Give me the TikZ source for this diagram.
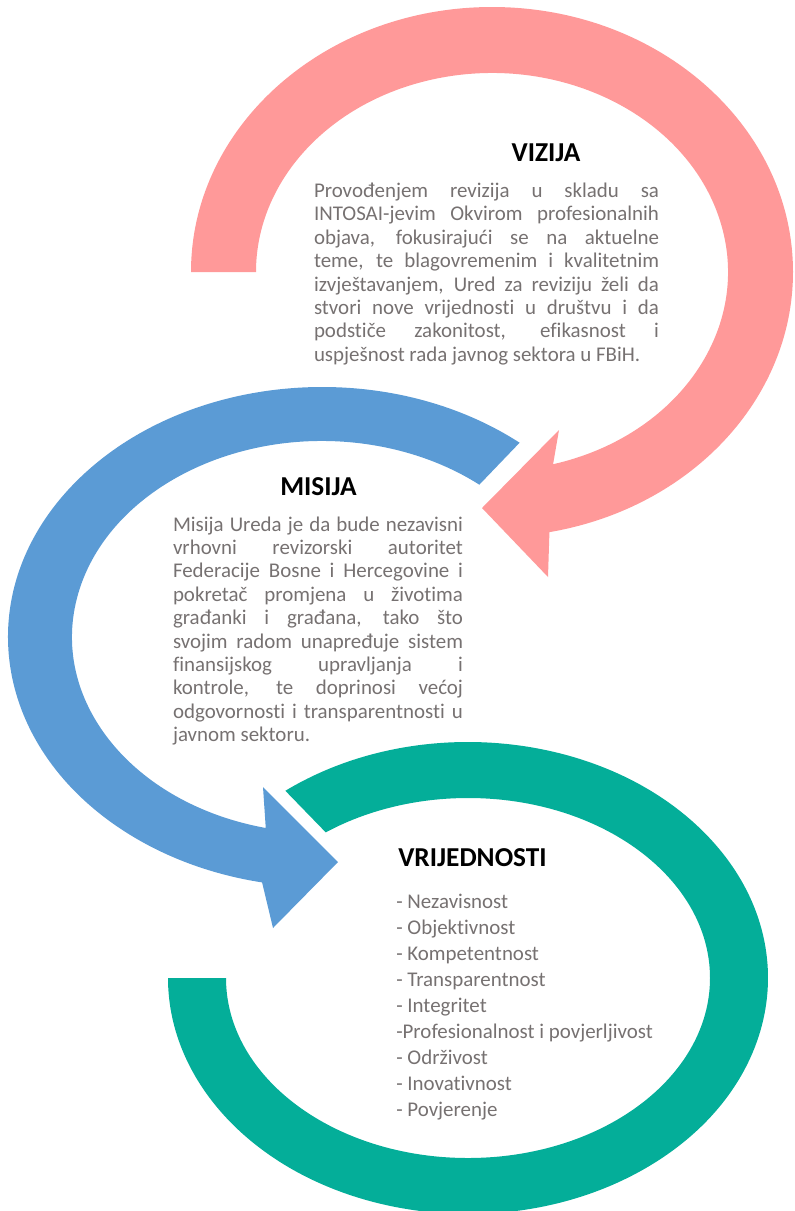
\documentclass[tikz,border=0pt]{standalone}
\usepackage{fontspec}
\setmainfont{Carlito}[Ligatures=TeX, RawFeature={-liga;-clig;-dlig;-calt}]
\usepackage{tikz}
\usetikzlibrary{calc}
\definecolor{vizijapink}{HTML}{FF9999}
\definecolor{misijablue}{HTML}{5B9BD5}
\definecolor{vrijteal}{HTML}{04AE99}
\definecolor{textgray}{HTML}{767171}

\begin{document}
\begin{tikzpicture}[x=0.75pt, y=-0.75pt,
    title/.style={font=\bfseries\fontsize{20.5}{24}\selectfont, text=black, inner sep=0pt},
    bodytext/.style={font=\fontsize{15.7}{17.55}\selectfont, text=textgray, align=justify, inner sep=0pt,
        execute at begin node={\hyphenpenalty=10000\exhyphenpenalty=10000\tolerance=10000}},
    listtext/.style={font=\fontsize{15.7}{19.5}\selectfont, text=textgray, align=left, inner sep=0pt}]
    \clip (0,0) rectangle (794,1211);

    % Vizija arrow
    \coordinate (vc) at (492,272);
    \fill[vizijapink] (vc) ++(180:301 and 265) arc[start angle=180, end angle=439, x radius=301, y radius=265]
        -- (548,577) -- (482,508) -- (559,430)
        -- ($(vc)+(435:236 and 199)$) arc[start angle=435, end angle=180, x radius=236, y radius=199] -- cycle;

    % Misija arrow
    \coordinate (mc) at (322,637);
    \fill[misijablue] (mc) ++(-51:314 and 250) arc[start angle=-51, end angle=-259, x radius=314, y radius=250]
        -- (273,928) -- (338,862) -- (263,787)
        -- ($(mc)+(-257:250 and 196)$) arc[start angle=-257, end angle=-51, x radius=250, y radius=196] -- cycle;

    % Vrijednosti ring
    \coordinate (rc) at (468,978);
    \fill[vrijteal] (rc) ++(-127.5:300 and 236) arc[start angle=-127.5, end angle=180, x radius=300, y radius=236]
        -- ($(rc)+(180:242 and 180)$) arc[start angle=180, end angle=-126, x radius=242, y radius=180] -- cycle;

    % Texts
    \node[title] (vizijatitle) at (546,153) {VIZIJA};
    \node[bodytext, text width=258.75pt] (vizijatext) at (486.5,274) {Provođenjem revizija u skladu sa\linebreak
        INTOSAI-jevim Okvirom profesionalnih\linebreak
        objava, fokusirajući se na aktuelne\linebreak
        teme, te blagovremenim i kvalitetnim\linebreak
        izvještavanjem, Ured za reviziju želi da\linebreak
        stvori nove vrijednosti u društvu i da\linebreak
        podstiče zakonitost, efikasnost i\linebreak
        uspješnost rada javnog sektora u FBiH.};

    \node[title] (misijatitle) at (318.5,487) {MISIJA};
    \node[bodytext, text width=217.5pt] (misijatext) at (318,631) {Misija Ureda je da bude nezavisni\linebreak
        vrhovni revizorski autoritet\linebreak
        Federacije Bosne i Hercegovine i\linebreak
        pokretač promjena u životima\linebreak
        građanki i građana, tako što\linebreak
        svojim radom unapređuje sistem\linebreak
        finansijskog upravljanja i\linebreak
        kontrole, te doprinosi većoj\linebreak
        odgovornosti i transparentnosti u\linebreak
        javnom sektoru.};

    \node[title] (vrijtitle) at (472.5,858) {VRIJEDNOSTI};
    \node[listtext, anchor=west] (vrijlist) at (396,1007.5) {- Nezavisnost\\
        - Objektivnost\\
        - Kompetentnost\\
        - Transparentnost\\
        - Integritet\\
        -Profesionalnost i povjerljivost\\
        - Održivost\\
        - Inovativnost\\
        - Povjerenje};
\end{tikzpicture}
\end{document}
